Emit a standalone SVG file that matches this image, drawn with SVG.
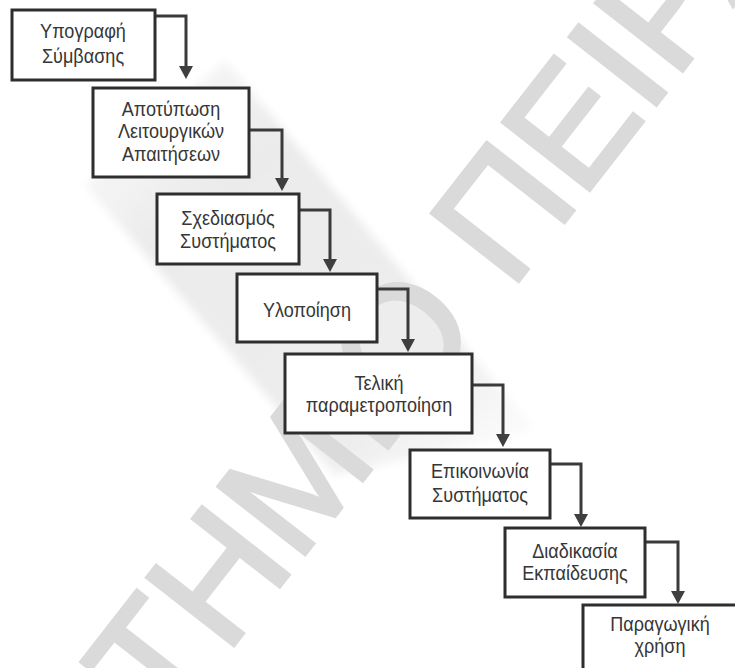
<svg xmlns="http://www.w3.org/2000/svg" width="735" height="668" viewBox="0 0 735 668">
  <defs>
    <style>
      .box rect { fill: #ffffff; stroke: #2e2e2e; stroke-width: 3; }
      .box text { font-family: "Liberation Sans", "DejaVu Sans Condensed", sans-serif; font-size: 21px; fill: #363636; text-anchor: middle; }
      .link { fill: none; stroke: #3a3a3a; stroke-width: 3; stroke-linejoin: miter; stroke-linecap: butt; marker-end: url(#head); }
      .mark { font-family: "Liberation Sans", "DejaVu Sans", sans-serif; font-size: 160px; fill: #dadada; stroke: #dadada; stroke-width: 4; stroke-linejoin: miter; }
    </style>
    <marker id="head" markerUnits="userSpaceOnUse" markerWidth="14" markerHeight="16" refX="0" refY="7" orient="auto" overflow="visible">
      <path d="M0,0 L13,7 L0,14 z" fill="#3f3f3f"/>
    </marker>
    <linearGradient id="bandFade" x1="0" y1="0" x2="1" y2="1">
      <stop offset="0" stop-color="#ececec" stop-opacity="0"/>
      <stop offset="0.3" stop-color="#ebebeb" stop-opacity="1"/>
      <stop offset="0.75" stop-color="#ededed" stop-opacity="1"/>
      <stop offset="1" stop-color="#efefef" stop-opacity="0"/>
    </linearGradient>
    <filter id="soft" x="-20%" y="-20%" width="140%" height="140%">
      <feGaussianBlur stdDeviation="5"/>
    </filter>
  </defs>

  <rect width="735" height="668" fill="#ffffff"/>

  <!-- soft grey band along the staircase -->
  <polygon points="225,60 535,430 335,475 85,185" fill="url(#bandFade)" filter="url(#soft)"/>

  <!-- diagonal watermark -->
  <text class="mark" transform="translate(400,340) rotate(-52)" x="-1157" y="57">ΠΑΝΕΠΙΣΤΗΜΙΟ ΠΕΙΡΑΙΩΣ</text>

  <!-- connectors between consecutive stages -->
  <g id="connectors">
    <path class="link" d="M155,16 H186 V66"/>
    <path class="link" d="M249,130 H282 V178"/>
    <path class="link" d="M299,210 H330 V259"/>
    <path class="link" d="M377,289 H408 V339"/>
    <path class="link" d="M472,385 H503 V434"/>
    <path class="link" d="M550,464 H581 V514"/>
    <path class="link" d="M645,542 H678 V591"/>
  </g>

  <g id="stage1" class="box">
    <rect x="12" y="10" width="143" height="70"/>
    <text transform="translate(83,38) scale(0.86,1)">Υπογραφή</text>
    <text transform="translate(83,63) scale(0.86,1)">Σύμβασης</text>
  </g>
  <g id="stage2" class="box">
    <rect x="93" y="88" width="156" height="89"/>
    <text transform="translate(171,116) scale(0.86,1)">Αποτύπωση</text>
    <text transform="translate(171,138) scale(0.86,1)">Λειτουργικών</text>
    <text transform="translate(171,161) scale(0.86,1)">Απαιτήσεων</text>
  </g>
  <g id="stage3" class="box">
    <rect x="157" y="194" width="142" height="70"/>
    <text transform="translate(228,225) scale(0.86,1)">Σχεδιασμός</text>
    <text transform="translate(228,248) scale(0.86,1)">Συστήματος</text>
  </g>
  <g id="stage4" class="box">
    <rect x="237" y="274" width="140" height="68"/>
    <text transform="translate(307,317) scale(0.86,1)">Υλοποίηση</text>
  </g>
  <g id="stage5" class="box">
    <rect x="285" y="354" width="187" height="79"/>
    <text transform="translate(379,390) scale(0.86,1)">Τελική</text>
    <text transform="translate(379,412) scale(0.86,1)">παραμετροποίηση</text>
  </g>
  <g id="stage6" class="box">
    <rect x="410" y="450" width="140" height="68"/>
    <text transform="translate(480,478) scale(0.86,1)">Επικοινωνία</text>
    <text transform="translate(480,502) scale(0.86,1)">Συστήματος</text>
  </g>
  <g id="stage7" class="box">
    <rect x="505" y="528" width="140" height="69"/>
    <text transform="translate(575,558) scale(0.86,1)">Διαδικασία</text>
    <text transform="translate(575,580) scale(0.86,1)">Εκπαίδευσης</text>
  </g>
  <g id="stage8" class="box">
    <rect x="583" y="605" width="157" height="70"/>
    <text transform="translate(660,631) scale(0.86,1)">Παραγωγική</text>
    <text transform="translate(660,653) scale(0.86,1)">χρήση</text>
  </g>
</svg>
